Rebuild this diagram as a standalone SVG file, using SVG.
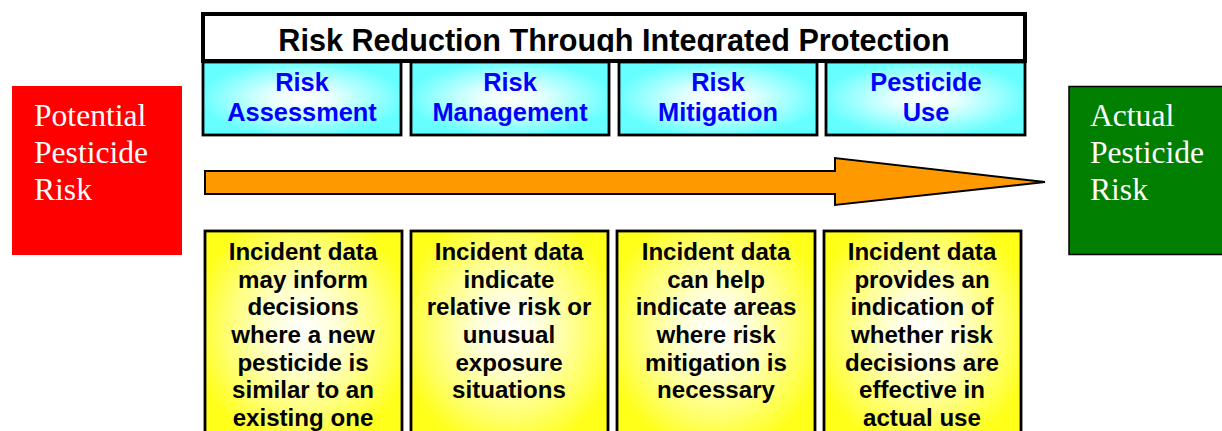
<svg xmlns="http://www.w3.org/2000/svg" width="1222" height="431" viewBox="0 0 1222 431">
<style>
.cy{fill:url(#gc);stroke:#000;stroke-width:2.8}
.ye{fill:url(#gy);stroke:#000;stroke-width:2.8}
.ct{font:bold 25.4px "Liberation Sans",Arial,sans-serif;fill:#0000ff;text-anchor:middle}
.yt{font:bold 24.1px "Liberation Sans",Arial,sans-serif;fill:#000;text-anchor:middle}
.st{font:31.6px "Liberation Serif","Times New Roman",serif;fill:#fff}
</style>
<defs>
<radialGradient id="gc" cx="0.5" cy="0.5" r="0.52"><stop offset="0" stop-color="#fff"/><stop offset="0.3" stop-color="#e8ffff"/><stop offset="1" stop-color="#66ffff"/></radialGradient>
<radialGradient id="gy" cx="0.5" cy="0.45" r="0.56"><stop offset="0" stop-color="#fff"/><stop offset="0.3" stop-color="#ffffd8"/><stop offset="0.7" stop-color="#ffff70"/><stop offset="1" stop-color="#ffff1a"/></radialGradient>
<clipPath id="tc"><rect x="201" y="12" width="826" height="40"/></clipPath>
</defs>
<rect width="1222" height="431" fill="#fff"/>
<g id="potential">
<rect x="12" y="86" width="170" height="169" fill="#ff0000"/>
<text class="st"><tspan x="34" y="126">Potential</tspan><tspan x="34" y="163">Pesticide</tspan><tspan x="34" y="200">Risk</tspan></text>
</g>
<g id="actual">
<rect x="1069" y="86.500" width="160" height="168" fill="#007f00" stroke="#000" stroke-width="1.500"/>
<text class="st"><tspan x="1090" y="126">Actual</tspan><tspan x="1090" y="163">Pesticide</tspan><tspan x="1090" y="200">Risk</tspan></text>
</g>
<g id="connectors">
<path d="M205 171H835V158L1045 182L835 205V194H205Z" fill="#ff9900" stroke="#000" stroke-width="2"/>
</g>
<g id="title">
<rect x="203" y="14" width="822" height="47" fill="#fff" stroke="#000" stroke-width="4"/>
<text x="614" y="51" clip-path="url(#tc)" style="font:bold 30.6px 'Liberation Sans',Arial,sans-serif;text-anchor:middle">Risk Reduction Through Integrated Protection</text>
</g>
<g id="risk-assessment">
<rect class="cy" x="203" y="62" width="198" height="73"/>
<text class="ct"><tspan x="302" y="91">Risk</tspan><tspan x="302" y="121">Assessment</tspan></text>
</g>
<g id="risk-management">
<rect class="cy" x="411" y="62" width="198" height="73"/>
<text class="ct"><tspan x="510" y="91">Risk</tspan><tspan x="510" y="121">Management</tspan></text>
</g>
<g id="risk-mitigation">
<rect class="cy" x="619" y="62" width="198" height="73"/>
<text class="ct"><tspan x="718" y="91">Risk</tspan><tspan x="718" y="121">Mitigation</tspan></text>
</g>
<g id="pesticide-use">
<rect class="cy" x="826" y="62" width="199" height="73"/>
<text class="ct"><tspan x="926" y="91">Pesticide</tspan><tspan x="926" y="121">Use</tspan></text>
</g>
<g id="incident-1">
<rect class="ye" x="205" y="231" width="197" height="220"/>
<text class="yt"><tspan x="303" y="260">Incident data</tspan><tspan x="303" y="288">may inform</tspan><tspan x="303" y="315">decisions</tspan><tspan x="303" y="343">where a new</tspan><tspan x="303" y="371">pesticide is</tspan><tspan x="303" y="398">similar to an</tspan><tspan x="303" y="426">existing one</tspan></text>
</g>
<g id="incident-2">
<rect class="ye" x="411" y="231" width="197" height="220"/>
<text class="yt"><tspan x="509" y="260">Incident data</tspan><tspan x="509" y="288">indicate</tspan><tspan x="509" y="315">relative risk or</tspan><tspan x="509" y="343">unusual</tspan><tspan x="509" y="371">exposure</tspan><tspan x="509" y="398">situations</tspan></text>
</g>
<g id="incident-3">
<rect class="ye" x="617" y="231" width="198" height="220"/>
<text class="yt"><tspan x="716" y="260">Incident data</tspan><tspan x="716" y="288">can help</tspan><tspan x="716" y="315">indicate areas</tspan><tspan x="716" y="343">where risk</tspan><tspan x="716" y="371">mitigation is</tspan><tspan x="716" y="398">necessary</tspan></text>
</g>
<g id="incident-4">
<rect class="ye" x="824" y="231" width="197" height="220"/>
<text class="yt"><tspan x="922" y="260">Incident data</tspan><tspan x="922" y="288">provides an</tspan><tspan x="922" y="315">indication of</tspan><tspan x="922" y="343">whether risk</tspan><tspan x="922" y="371">decisions are</tspan><tspan x="922" y="398">effective in</tspan><tspan x="922" y="426">actual use</tspan></text>
</g>
</svg>
